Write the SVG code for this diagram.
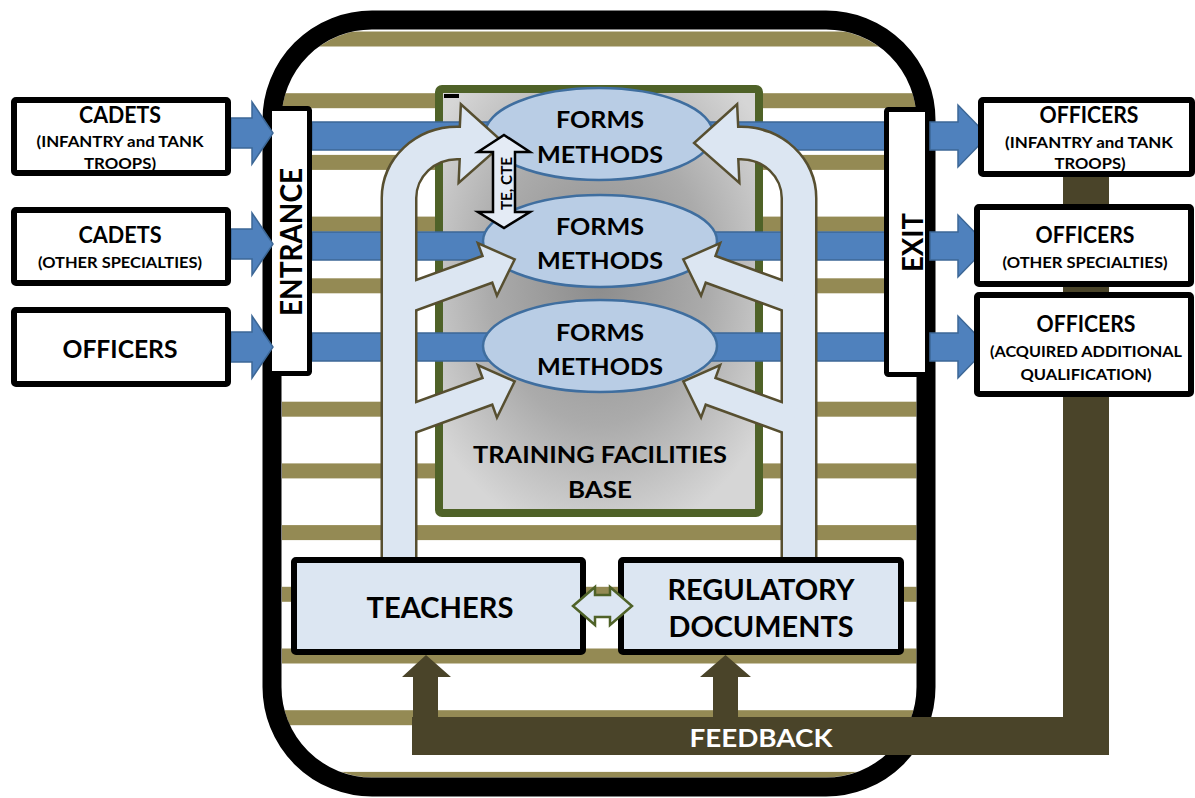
<svg xmlns="http://www.w3.org/2000/svg" xmlns:xlink="http://www.w3.org/1999/xlink" width="1195" height="798" viewBox="0 0 1195 798">
<style>
text{font-family:Lato,"Liberation Sans",Arial,sans-serif;font-weight:bold;fill:#000;text-anchor:middle}
.stripe{fill:#948A54}
.box{fill:#fff;stroke:#000;stroke-width:6}
.lbox{fill:#DCE6F2;stroke:#000;stroke-width:6}
.band{fill:#4F81BD;stroke:#3C6796;stroke-width:1.5}
.ell{fill:#B9CDE5;stroke:#3F6E9F;stroke-width:2.5}
.fb{fill:#4A4429}
.big{font-size:22px}
.sm{font-size:16px}
.fm{font-size:23px}
.wt{fill:#fff}
</style>
<defs>
<clipPath id="inner"><rect x="281.5" y="29.5" width="635" height="748" rx="90.5"/></clipPath>
<radialGradient id="gray" cx="0.5" cy="0.45" r="0.62">
<stop offset="0" stop-color="#8C8C8C"/>
<stop offset="0.55" stop-color="#ABABAB"/>
<stop offset="1" stop-color="#D6D6D6"/>
</radialGradient>
<polygon id="diag" points="0,0 -26,-25 -26,-13 -115,-13 -115,13 -26,13 -26,25"/>
<g id="lightHalf">
<path d="M383,560 L383,198 A74,70 0 0 1 457,128 L461,128 L462,107 L502,143 L460,180 L461,158 L457,158 A42,40 0 0 0 415,198 L415,560 Z"/>
<use xlink:href="#diag" transform="translate(513,260) rotate(-20)"/>
<use xlink:href="#diag" transform="translate(513,382) rotate(-20)"/>
</g>
<g id="lightAll">
<use xlink:href="#lightHalf"/>
<use xlink:href="#lightHalf" transform="translate(1198,0) scale(-1,1)"/>
</g>
<path id="rblue" d="M0,-14 L28,-14 L28,-31 L58,0 L28,31 L28,14 L0,14 Z"/>
<path id="lblue" d="M0,-15 L21,-15 L21,-31 L42,0 L21,31 L21,15 L0,15 Z"/>
</defs>

<g id="frame-bg">
<rect x="272" y="20" width="654" height="767" rx="100" fill="#fff"/>
<g clip-path="url(#inner)">
<rect class="stripe" x="282" y="31.5" width="635" height="15"/>
<rect class="stripe" x="282" y="93.2" width="635" height="15"/>
<rect class="stripe" x="282" y="154.9" width="635" height="15"/>
<rect class="stripe" x="282" y="216.6" width="635" height="15"/>
<rect class="stripe" x="282" y="278.3" width="635" height="15"/>
<rect class="stripe" x="282" y="340" width="635" height="15"/>
<rect class="stripe" x="282" y="401.7" width="635" height="15"/>
<rect class="stripe" x="282" y="463.4" width="635" height="15"/>
<rect class="stripe" x="282" y="525.1" width="635" height="15"/>
<rect class="stripe" x="282" y="586.8" width="635" height="15"/>
<rect class="stripe" x="282" y="648.5" width="635" height="15"/>
<rect class="stripe" x="282" y="710.2" width="635" height="15"/>
<rect class="stripe" x="282" y="771.9" width="635" height="15"/>
</g>
</g>

<g id="training-base">
<rect x="439" y="89" width="320" height="424" rx="3" fill="url(#gray)" stroke="#4F6228" stroke-width="8"/>
<rect x="444" y="94" width="15" height="4" fill="#000"/>
<text x="600" y="463" class="fm" textLength="254" lengthAdjust="spacingAndGlyphs">TRAINING FACILITIES</text>
<text x="600" y="498" class="fm" textLength="64" lengthAdjust="spacingAndGlyphs">BASE</text>
</g>

<g id="connectors">
<rect class="band" x="312" y="122" width="574" height="28"/>
<rect class="band" x="312" y="232" width="574" height="28"/>
<rect class="band" x="312" y="333" width="574" height="28"/>
</g>

<g id="forms1">
<ellipse class="ell" cx="599" cy="134" rx="114" ry="46"/>
<text x="600" y="128" class="fm" textLength="88" lengthAdjust="spacingAndGlyphs">FORMS</text>
<text x="600" y="163" class="fm" textLength="126" lengthAdjust="spacingAndGlyphs">METHODS</text>
</g>
<g id="forms2">
<ellipse class="ell" cx="600" cy="241" rx="117" ry="46"/>
<text x="600" y="235" class="fm" textLength="88" lengthAdjust="spacingAndGlyphs">FORMS</text>
<text x="600" y="269" class="fm" textLength="126" lengthAdjust="spacingAndGlyphs">METHODS</text>
</g>
<g id="forms3">
<ellipse class="ell" cx="600" cy="346" rx="117" ry="46"/>
<text x="600" y="341" class="fm" textLength="88" lengthAdjust="spacingAndGlyphs">FORMS</text>
<text x="600" y="375" class="fm" textLength="126" lengthAdjust="spacingAndGlyphs">METHODS</text>
</g>

<g id="light-arrows">
<use xlink:href="#lightAll" fill="none" stroke="#574F30" stroke-width="5" stroke-linejoin="miter"/>
<use xlink:href="#lightAll" fill="#DCE6F2" stroke="none"/>
</g>

<g id="te-cte">
<path d="M504,135 L530,152 L515,152 L515,212 L530,212 L504,228 L478,212 L493,212 L493,152 L478,152 Z" fill="#E4EBF5" stroke="#000" stroke-width="2.5"/>
<text transform="translate(512,183.5) rotate(-90)" x="0" y="0" style="font-size:16px" textLength="53" lengthAdjust="spacingAndGlyphs">TE, CTE</text>
</g>

<g id="frame-border">
<rect x="272" y="20" width="654" height="767" rx="100" fill="none" stroke="#000" stroke-width="19"/>
</g>

<g id="feedback">
<path class="fb" d="M412,717 L1063,717 L1063,175 L1109,175 L1109,755 L412,755 Z"/>
<text x="761" y="747" class="wt" style="font-size:25px" textLength="143" lengthAdjust="spacingAndGlyphs">FEEDBACK</text>
</g>

<g id="entrance">
<rect x="269.5" y="108.5" width="40" height="265" rx="2" fill="#fff" stroke="#000" stroke-width="5"/>
<text transform="translate(302,242) rotate(-90)" style="font-size:30px" textLength="148" lengthAdjust="spacingAndGlyphs">ENTRANCE</text>
</g>
<g id="exit">
<rect x="886.5" y="109.5" width="41" height="265" rx="2" fill="#fff" stroke="#000" stroke-width="5"/>
<text transform="translate(923,242.5) rotate(-90)" style="font-size:29px" textLength="59" lengthAdjust="spacingAndGlyphs">EXIT</text>
</g>

<g id="connectors-io">
<use xlink:href="#lblue" transform="translate(231,133)" class="band"/>
<use xlink:href="#lblue" transform="translate(231,244)" class="band"/>
<use xlink:href="#lblue" transform="translate(231,347)" class="band"/>
<use xlink:href="#rblue" transform="translate(930,136)" class="band"/>
<use xlink:href="#rblue" transform="translate(930,246)" class="band"/>
<use xlink:href="#rblue" transform="translate(930,347)" class="band"/>
</g>

<g id="cadets-infantry">
<rect class="box" x="14" y="100" width="214" height="73" rx="2"/>
<text x="120" y="123" class="big" textLength="82" lengthAdjust="spacingAndGlyphs">CADETS</text>
<text x="120" y="147" class="sm" textLength="167" lengthAdjust="spacingAndGlyphs">(INFANTRY and TANK</text>
<text x="120" y="169" class="sm" textLength="72" lengthAdjust="spacingAndGlyphs">TROOPS)</text>
</g>
<g id="cadets-other">
<rect class="box" x="14" y="210" width="214" height="73" rx="2"/>
<text x="120" y="243" class="big" textLength="83" lengthAdjust="spacingAndGlyphs">CADETS</text>
<text x="120" y="268" class="sm" textLength="164" lengthAdjust="spacingAndGlyphs">(OTHER SPECIALTIES)</text>
</g>
<g id="officers-in">
<rect class="box" x="14" y="310" width="214" height="74" rx="2"/>
<text x="120" y="358" style="font-size:25px" textLength="115" lengthAdjust="spacingAndGlyphs">OFFICERS</text>
</g>

<g id="officers-infantry">
<rect class="box" x="981" y="100" width="211" height="74" rx="2"/>
<text x="1089" y="123" class="big" textLength="99" lengthAdjust="spacingAndGlyphs">OFFICERS</text>
<text x="1089" y="148" class="sm" textLength="168" lengthAdjust="spacingAndGlyphs">(INFANTRY and TANK</text>
<text x="1090" y="169" class="sm" textLength="71" lengthAdjust="spacingAndGlyphs">TROOPS)</text>
</g>
<g id="officers-other">
<rect class="box" x="977" y="207" width="214" height="77" rx="2"/>
<text x="1085" y="243" class="big" textLength="99" lengthAdjust="spacingAndGlyphs">OFFICERS</text>
<text x="1085" y="268" class="sm" textLength="165" lengthAdjust="spacingAndGlyphs">(OTHER SPECIALTIES)</text>
</g>
<g id="officers-additional">
<rect class="box" x="977" y="295" width="214" height="99" rx="2"/>
<text x="1086" y="332" class="big" textLength="99" lengthAdjust="spacingAndGlyphs">OFFICERS</text>
<text x="1086" y="357" class="sm" textLength="192" lengthAdjust="spacingAndGlyphs">(ACQUIRED ADDITIONAL</text>
<text x="1086" y="380" class="sm" textLength="131" lengthAdjust="spacingAndGlyphs">QUALIFICATION)</text>
</g>

<g id="teachers">
<rect class="lbox" x="294" y="560" width="289" height="92" rx="2"/>
<text x="440" y="618" style="font-size:28px" textLength="147" lengthAdjust="spacingAndGlyphs">TEACHERS</text>
</g>
<g id="regulatory-documents">
<rect class="lbox" x="621" y="560" width="280" height="92" rx="2"/>
<text x="761" y="600" style="font-size:28px" textLength="187" lengthAdjust="spacingAndGlyphs">REGULATORY</text>
<text x="761" y="637" style="font-size:28px" textLength="185" lengthAdjust="spacingAndGlyphs">DOCUMENTS</text>
</g>

<g id="connectors-bottom">
<path d="M573,606 L595,587 L595,595 L610,595 L610,587 L632,606 L610,625 L610,617 L595,617 L595,625 Z" fill="#DCE6F2" stroke="#4F6228" stroke-width="2.5"/>
<path class="fb" d="M426,655 L451,677 L438,677 L438,720 L413,720 L413,677 L402,677 Z"/>
<path class="fb" d="M725.5,655 L751,677 L738,677 L738,720 L713,720 L713,677 L700,677 Z"/>
</g>
</svg>
